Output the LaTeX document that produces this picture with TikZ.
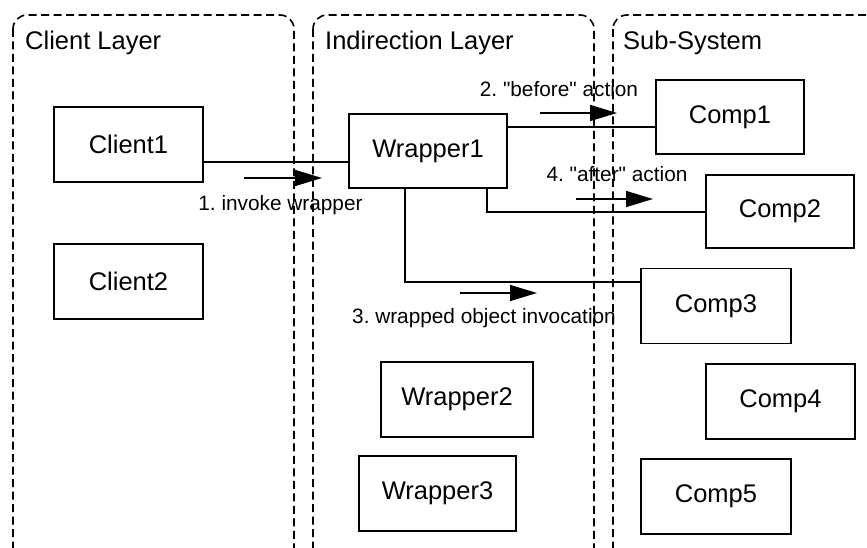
\documentclass[tikz,border=0pt]{standalone}
\usepackage{fontspec}
\setmainfont{Liberation Sans}[Ligatures=TeXOff]
\frenchspacing
\usetikzlibrary{arrows.meta}
\begin{document}
\begin{tikzpicture}[x=1pt,y=-1pt,
  layer/.style={draw, line width=1.6pt, dash pattern=on 8pt off 4.5pt, rounded corners=14pt},
  comp/.style={draw, line width=1.5pt, minimum width=150pt, minimum height=75pt, inner sep=0pt, font=\fontsize{25.5}{30}\selectfont},
  title/.style={anchor=base west, inner sep=0pt, font=\fontsize{25.5}{30}\selectfont},
  lbl/.style={anchor=base, inner sep=0pt, font=\fontsize{20.8}{25}\selectfont},
  conn/.style={line width=1.4pt},
  flow/.style={line width=1.5pt, -{Triangle[length=27pt,width=16pt]}}]
\useasboundingbox (0,0) rectangle (867,548);
% layers
\draw[layer] (13,15) rectangle (294,562);
\draw[layer] (313,15) rectangle (594,562);
\draw[layer] (613,15) rectangle (890,562);
\node[title] (tcl) at (25,50) {Client Layer};
\node[title] (til) at (325,50) {Indirection Layer};
\node[title] (tss) at (623,50) {Sub-System};
% boxes
\node[comp, minimum width=149pt] (c1) at (128.5,144.5) {Client1};
\node[comp, minimum width=149pt] (c2) at (128.5,281.5) {Client2};
\node[comp, minimum width=158pt, minimum height=74pt] (w1) at (428,151) {Wrapper1};
\node[comp, minimum width=152pt] (w2) at (457,399.5) {Wrapper2};
\node[comp, minimum width=157pt] (w3) at (437.5,493.5) {Wrapper3};
\node[comp, minimum width=148pt, minimum height=74pt] (p1) at (730,117) {Comp1};
\node[comp, minimum width=148pt, minimum height=73pt] (p2) at (780,211.5) {Comp2};
\node[comp] (p3) at (716,306) {Comp3};
\node[comp, minimum width=149pt] (p4) at (780.5,401.5) {Comp4};
\node[comp] (p5) at (716,496.5) {Comp5};
% connectors
\coordinate (y1) at (0,162);
\coordinate (y2) at (0,127);
\coordinate (k2) at (487,212);
\coordinate (k3) at (405,282);
\draw[conn] (c1.east |- y1) -- (w1.west |- y1);
\draw[conn] (w1.east |- y2) -- (p1.west |- y2);
\draw[conn] (w1.south -| k2) -- (k2) -- (p2.west |- k2);
\draw[conn] (w1.south -| k3) -- (k3) -- (p3.west |- k3);
% flow arrows
\coordinate (a1s) at (244,178); \coordinate (a1e) at (322,178);
\coordinate (a2s) at (540,113); \coordinate (a2e) at (617,113);
\coordinate (a4s) at (576,199); \coordinate (a4e) at (653,199);
\coordinate (a3s) at (460,293); \coordinate (a3e) at (537,293);
\draw[flow] (a1s) -- (a1e);
\draw[flow] (a2s) -- (a2e);
\draw[flow] (a4s) -- (a4e);
\draw[flow] (a3s) -- (a3e);
% labels
\node[lbl] (l1) at (280.5,211) {1. invoke wrapper};
\node[lbl] (l2) at (559,97) {2. "before" action};
\node[lbl] (l4) at (617,182) {4. "after" action};
\node[lbl] (l3) at (484,323) {3. wrapped object invocation};
\end{tikzpicture}
\end{document}
